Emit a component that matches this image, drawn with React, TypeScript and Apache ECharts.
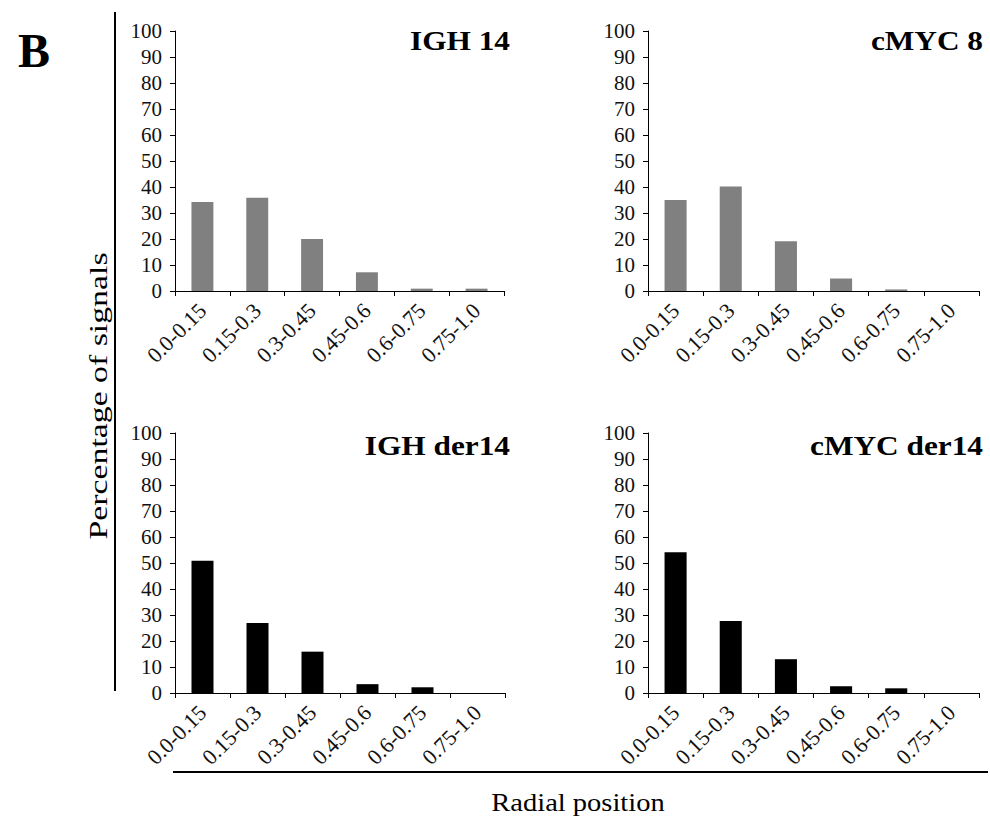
import React, { useEffect, useRef } from "react";
import * as echarts from "echarts";

const categories = ["0.0-0.15", "0.15-0.3", "0.3-0.45", "0.45-0.6", "0.6-0.75", "0.75-1.0"];
const igh14 = [34.2, 35.9, 20, 7.2, 0.9, 0.9];
const cmyc8 = [35, 40.2, 19.1, 4.8, 0.6, 0];
const ighDer14 = [50.9, 26.9, 15.9, 3.4, 2.2, 0];
const cmycDer14 = [54.1, 27.7, 13, 2.6, 1.8, 0];
const panelTitles = ["IGH 14", "cMYC 8", "IGH der14", "cMYC der14"];
const yTicks = [0, 10, 20, 30, 40, 50, 60, 70, 80, 90, 100];

const FONT = "Liberation Serif";

export default function App() {
  const ref = useRef<HTMLDivElement>(null);
  useEffect(() => {
    if (!ref.current) return;
    const chart = echarts.init(ref.current, null, { renderer: "svg" });
    const grids = [
      { left: 175, top: 31, width: 329, height: 260 },
      { left: 648, top: 31, width: 331, height: 260 },
      { left: 175, top: 433, width: 330, height: 260 },
      { left: 648, top: 433, width: 331, height: 260 },
    ];
    const seriesData = [igh14, cmyc8, ighDer14, cmycDer14];
    const colors = ["#808080", "#808080", "#000000", "#000000"];
    const titlePos = [
      [510, 41],
      [983, 41],
      [510, 446],
      [983, 446],
    ];
    const option: any = {
      animation: false,
      backgroundColor: "#ffffff",
      grid: grids.map((g) => ({ ...g, containLabel: false })),
      xAxis: grids.map((_, i) => ({
        type: "category",
        gridIndex: i,
        data: categories,
        axisLine: { lineStyle: { color: "#000", width: 1 } },
        axisTick: { show: true, length: 5, lineStyle: { color: "#000" } },
        axisLabel: {
          rotate: 45,
          interval: 0,
          color: "#111",
          fontFamily: FONT,
          fontSize: 22,
          margin: 16,
        },
      })),
      yAxis: grids.map((_, i) => ({
        type: "value",
        gridIndex: i,
        min: yTicks[0],
        max: yTicks[yTicks.length - 1],
        interval: 10,
        axisLine: { show: true, lineStyle: { color: "#000", width: 1 } },
        axisTick: { show: true, length: 5, lineStyle: { color: "#000" } },
        splitLine: { show: false },
        axisLabel: {
          color: "#111",
          fontFamily: FONT,
          fontSize: 21,
          margin: 13,
        },
      })),
      series: seriesData.map((d, i) => ({
        type: "bar",
        xAxisIndex: i,
        yAxisIndex: i,
        data: d,
        barWidth: "40%",
        itemStyle: { color: colors[i] },
      })),
      graphic: [
        {
          type: "text",
          x: 34,
          y: 50,
          style: {
            text: "B",
            fontFamily: FONT,
            fontWeight: "bold",
            fontSize: 48,
            fill: "#000",
            textAlign: "center",
            textVerticalAlign: "middle",
          },
        },
        {
          type: "line",
          shape: { x1: 115, y1: 12, x2: 115, y2: 691 },
          style: { stroke: "#000", lineWidth: 2 },
        },
        {
          type: "line",
          shape: { x1: 173, y1: 772, x2: 988, y2: 772 },
          style: { stroke: "#000", lineWidth: 2 },
        },
        {
          type: "text",
          x: 98,
          y: 396,
          rotation: Math.PI / 2,
          scaleX: 1.3,
          style: {
            text: "Percentage of signals",
            fontFamily: FONT,
            fontSize: 26,
            fill: "#000",
            textAlign: "center",
            textVerticalAlign: "middle",
          },
        },
        {
          type: "text",
          x: 578,
          y: 803,
          scaleX: 1.14,
          style: {
            text: "Radial position",
            fontFamily: FONT,
            fontSize: 25,
            fill: "#000",
            textAlign: "center",
            textVerticalAlign: "middle",
          },
        },
        ...panelTitles.map((t, i) => ({
          type: "text",
          x: titlePos[i][0],
          y: titlePos[i][1],
          scaleX: 1.16,
          style: {
            text: t,
            fontFamily: FONT,
            fontWeight: "bold",
            fontSize: 27,
            fill: "#000",
            textAlign: "right",
            textVerticalAlign: "middle",
          },
        })),
      ],
    };
    chart.setOption(option);
    return () => chart.dispose();
  }, []);
  return (
    <div
      ref={ref}
      style={{ position: "fixed", left: 0, top: 0, width: 990, height: 819, background: "#fff" }}
    />
  );
}
